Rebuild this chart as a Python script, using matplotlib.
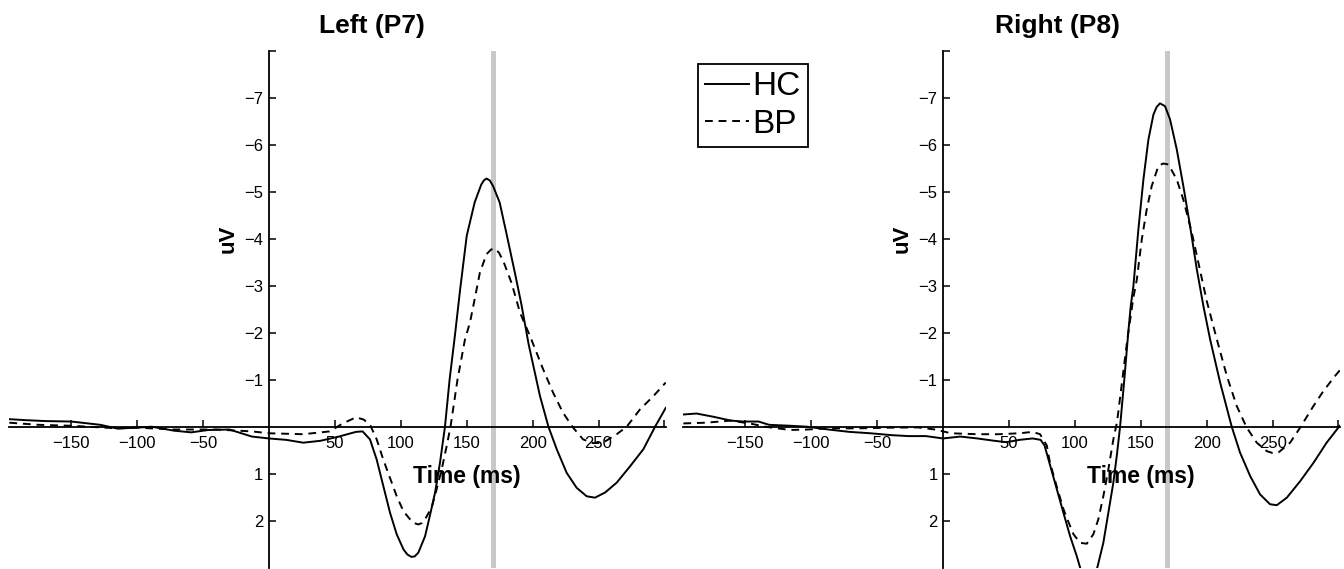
import matplotlib
matplotlib.use("Agg")
import matplotlib.pyplot as plt

plt.rcParams['font.family'] = ['Liberation Sans', 'DejaVu Sans']

# ---- data (time in ms, amplitude in uV) ----
left_hc_t = [-197, -185, -170, -150, -128, -115, -100, -89, -72, -59, -46, -30, -13, 0, 13, 26, 39, 53, 66, 71,
             76.6, 81.7, 86.7, 91.8, 96.9, 102, 105, 108, 110.5, 113.3, 118.4, 122, 126, 129.7, 133.5, 137, 141,
             145, 150, 156, 161, 163, 165, 167.5, 170, 175, 180, 186.5, 191.5, 197, 205.6, 212, 218.3, 225.8,
             233.4, 241, 247.3, 255, 263.8, 274, 284, 292.9, 301]
left_hc_v = [-0.16, -0.14, -0.12, -0.11, -0.04, 0.04, 0.02, 0.0, 0.085, 0.12, 0.07, 0.06, 0.21, 0.25, 0.28, 0.34,
             0.30, 0.21, 0.11, 0.10, 0.27, 0.70, 1.26, 1.83, 2.29, 2.61, 2.72, 2.77, 2.76, 2.68, 2.33, 1.90, 1.40,
             0.77, 0.0, -1.0, -1.93, -2.92, -4.06, -4.77, -5.15, -5.24, -5.28, -5.24, -5.12, -4.77, -4.13, -3.28,
             -2.60, -1.75, -0.65, 0.0, 0.48, 0.98, 1.30, 1.48, 1.51, 1.40, 1.19, 0.84, 0.48, 0.0, -0.4]

left_bp_t = [-197, -175, -150, -115, -100, -72, -40, -13, 0, 26, 46, 56, 66, 72, 77, 81.7, 86.7, 91.8, 96.9, 102,
             107, 110, 113.3, 116, 118.4, 123.4, 127.2, 131, 134.8, 137.7, 143, 148.7, 152.5, 156, 160, 165,
             168.5, 171.5, 174.5, 177.8, 184, 190.5, 198, 208, 215.6, 223, 230.7, 238.3, 246, 253.4, 263.8, 271.4,
             281.5, 291.6, 301]
left_bp_v = [-0.085, -0.04, -0.02, 0.035, 0.02, 0.06, 0.06, 0.10, 0.14, 0.16, 0.10, -0.07, -0.20, -0.15, -0.02,
             0.27, 0.70, 1.09, 1.48, 1.80, 1.97, 2.05, 2.08, 2.05, 1.97, 1.72, 1.33, 0.91, 0.41, 0.0, -1.0, -1.86,
             -2.22, -2.71, -3.28, -3.67, -3.77, -3.79, -3.70, -3.52, -3.06, -2.42, -1.93, -1.22, -0.72, -0.30, 0.02,
             0.27, 0.35, 0.34, 0.16, 0.0, -0.37, -0.65, -0.94]

right_hc_t = [-197, -187, -174, -161, -152, -140, -132, -116, -103, -87, -71, -55, -39, -26, -13, 0, 13, 26, 39,
              48, 58, 68, 74, 77, 81, 86.3, 91.3, 96.4, 101.4, 104, 110, 117, 121.6, 125.4, 129.2, 131.8, 134.3,
              137.5, 140.5, 142.4, 144.4, 148.2, 152, 155.8, 159.6, 162, 164.6, 168.4, 172.2, 177.3, 182.3, 187.4,
              192.5, 197.5, 202.6, 210.2, 219, 225.3, 233, 240.5, 248.1, 253.2, 260.8, 270.9, 281, 291, 301]
right_hc_v = [-0.26, -0.28, -0.21, -0.13, -0.11, -0.11, -0.04, -0.02, 0.0, 0.06, 0.11, 0.14, 0.18, 0.20, 0.20,
              0.25, 0.21, 0.25, 0.30, 0.33, 0.28, 0.25, 0.28, 0.40, 0.80, 1.33, 1.83, 2.33, 2.75, 3.0, 3.3, 3.0,
              2.47, 1.83, 1.19, 0.62, 0.0, -1.0, -2.0, -2.57, -2.99, -4.2, -5.26, -6.11, -6.64, -6.80, -6.88, -6.82,
              -6.54, -5.9, -5.12, -4.27, -3.35, -2.57, -1.86, -0.94, 0.0, 0.55, 1.05, 1.44, 1.65, 1.67, 1.51, 1.16,
              0.77, 0.34, -0.02]

right_bp_t = [-197, -180, -161, -145, -135, -116, -103, -87, -65, -39, -19, -6, 6, 26, 42, 58, 68, 73.6, 78.7, 81,
              86.3, 91.3, 94, 99, 104, 109, 114, 117.8, 121.6, 125.4, 129.2, 132, 136, 140, 144.4, 147, 150.8,
              154.5, 158.3, 163.4, 167, 171, 177.3, 182.3, 188.7, 193.7, 200, 207.7, 215.3, 222.8, 230.4, 238,
              245.6, 250, 254.4, 263.3, 270.9, 281, 288.6, 297.4, 301]
right_bp_v = [-0.07, -0.085, -0.13, -0.06, 0.0, 0.07, 0.06, 0.035, 0.035, 0.02, 0.015, 0.06, 0.14, 0.16, 0.16,
              0.14, 0.11, 0.16, 0.40, 0.75, 1.28, 1.75, 1.95, 2.29, 2.47, 2.49, 2.29, 1.97, 1.48, 0.91, 0.27, -0.1,
              -1.0, -1.9, -2.75, -3.13, -3.99, -4.62, -5.12, -5.55, -5.6, -5.58, -5.26, -4.83, -4.13, -3.49, -2.68,
              -1.86, -1.08, -0.44, 0.02, 0.34, 0.52, 0.56, 0.55, 0.34, 0.02, -0.44, -0.76, -1.08, -1.2]

x_ticks = [-150, -100, -50, 50, 100, 150, 200, 250, 300]
x_labels = ['\u2212150', '\u2212100', '\u221250', '50', '100', '150', '200', '250', '']
y_ticks = [-8, -7, -6, -5, -4, -3, -2, -1, 1, 2]
y_labels = ['', '\u22127', '\u22126', '\u22125', '\u22124', '\u22123', '\u22122', '\u22121', '1', '2']
peak_ms = 170

fig = plt.figure(figsize=(13.44, 5.69), dpi=100)
W, H = 1344.0, 569.0
ax_l = fig.add_axes([9.35 / W, 1.3 / H, 656.4 / W, 517 / H])
ax_r = fig.add_axes([683.4 / W, 1.3 / H, 656.4 / W, 517 / H])

panels = [
    (ax_l, left_hc_t, left_hc_v, left_bp_t, left_bp_v, 'Left (P7)', 78),
    (ax_r, right_hc_t, right_hc_v, right_bp_t, right_bp_v, 'Right (P8)', 87),
]

for ax, ht, hv, bt, bv, title, title_x in panels:
    ax.axvline(peak_ms, color='#c8c8c8', lw=3.6, zorder=1)
    hc_line, = ax.plot(ht, hv, color='black', lw=1.4, label='HC', zorder=3)
    bp_line, = ax.plot(bt, bv, color='black', lw=1.4, ls=(0, (4, 3)), label='BP', zorder=3)
    ax.set_xlim(-197, 301)
    ax.set_ylim(3, -8)
    for s in ['top', 'right']:
        ax.spines[s].set_visible(False)
    ax.spines['left'].set_position(('data', 0))
    ax.spines['bottom'].set_position(('data', 0))
    ax.spines['left'].set_linewidth(1.3)
    ax.spines['bottom'].set_linewidth(1.3)
    ax.set_xticks(x_ticks)
    ax.set_xticklabels(x_labels)
    ax.set_yticks(y_ticks)
    ax.set_yticklabels(y_labels)
    ax.tick_params(axis='x', direction='in', length=5, width=1.1, pad=7, labelsize=12)
    ax.tick_params(axis='y', direction='in', length=5, width=1.1, pad=4, labelsize=12)
    ax.patch.set_visible(False)
    ax.text(title_x, -8.38, title, fontsize=19, fontweight='bold', ha='center', va='baseline', clip_on=False)
    ax.text(-31, -4, 'uV', fontsize=16, fontweight='bold', rotation=90, ha='center', va='center')
    ax.text(150, 1.19, 'Time (ms)', fontsize=16.5, fontweight='bold', ha='center', va='baseline')

leg = fig.legend(handles=[hc_line, bp_line], loc='upper left', bbox_to_anchor=(698 / W, 1 - 64 / H),
                 fontsize=24, frameon=True, fancybox=False, edgecolor='black', framealpha=1,
                 handlelength=1.3, handletextpad=0.1, labelspacing=0.2, borderpad=0.22, borderaxespad=0)
leg.get_frame().set_linewidth(1.3)

fig.savefig('out.png', dpi=100)
